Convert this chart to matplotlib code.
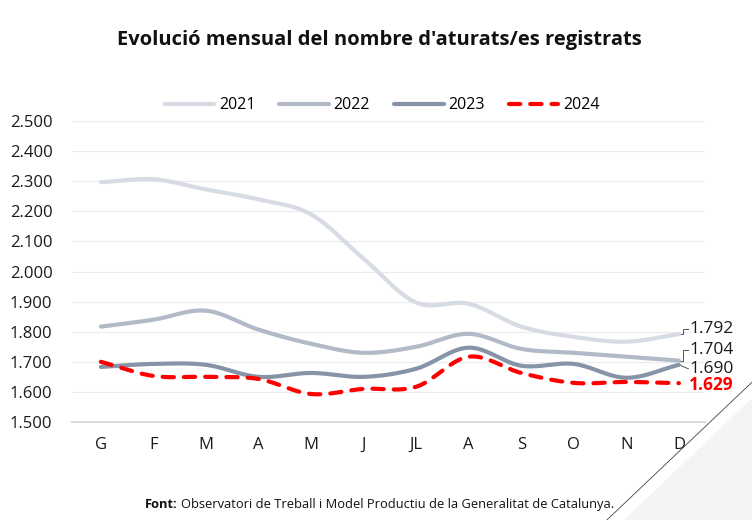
import numpy as np
import matplotlib
matplotlib.use("Agg")
import matplotlib.pyplot as plt
from matplotlib.ticker import FuncFormatter

months = ['G', 'F', 'M', 'A', 'M', 'J', 'JL', 'A', 'S', 'O', 'N', 'D']
y2021 = [2297, 2307, 2273, 2240, 2190, 2043, 1897, 1893, 1817, 1783, 1767, 1792]
y2022 = [1817, 1840, 1870, 1807, 1760, 1730, 1750, 1793, 1743, 1730, 1717, 1704]
y2023 = [1683, 1693, 1690, 1650, 1663, 1650, 1677, 1747, 1687, 1693, 1647, 1690]
y2024 = [1700, 1653, 1650, 1643, 1593, 1610, 1617, 1717, 1663, 1630, 1633, 1629]
years = ['2021', '2022', '2023', '2024']
end_labels = ['1.792', '1.704', '1.690', '1.629']

plt.rcParams['font.family'] = ['Open Sans', 'DejaVu Sans']


def smooth(y, n=20):
    """ Catmull-Rom style smoothing through the given points """
    y = np.asarray(y, dtype=float)
    x = np.arange(len(y))
    m = np.gradient(y)
    xs, ys = [], []
    for i in range(len(y) - 1):
        t = np.linspace(0, 1, n, endpoint=False)
        h00 = 2 * t**3 - 3 * t**2 + 1
        h10 = t**3 - 2 * t**2 + t
        h01 = -2 * t**3 + 3 * t**2
        h11 = t**3 - t**2
        ys.append(h00 * y[i] + h10 * m[i] + h01 * y[i + 1] + h11 * m[i + 1])
        xs.append(x[i] + t)
    xs.append([x[-1]])
    ys.append([y[-1]])
    return np.concatenate(xs), np.concatenate(ys)


fig = plt.figure(figsize=(7.52, 5.2), dpi=100)
ax = fig.add_axes([0.0957, 0.1885, 0.842, 0.5785])

colors = ['#d6dbe4', '#b2bac8', '#8794a7', '#ff0000']
series = [y2021, y2022, y2023, y2024]
for ys, c, lab in zip(series, colors, years):
    sx, sy = smooth(ys)
    if lab == '2024':
        ax.plot(sx, sy, color=c, lw=3.0, ls=(0, (2.7, 2.4)), label=lab,
                solid_capstyle='round', dash_capstyle='round', zorder=5)
    else:
        ax.plot(sx, sy, color=c, lw=3.0, label=lab,
                solid_capstyle='round', zorder=3)

ax.set_xlim(-0.55, 11.5)
ax.set_ylim(1500, 2500)
ax.set_yticks(np.arange(1500, 2501, 100))
ax.yaxis.set_major_formatter(FuncFormatter(
    lambda v, p: '{:,.0f}'.format(v).replace(',', '.')))
ax.set_xticks(range(len(months)))
ax.set_xticklabels(months)
ax.grid(axis='y', color='#ececec', lw=0.8)
ax.set_axisbelow(True)
for s in ['top', 'right', 'left']:
    ax.spines[s].set_visible(False)
ax.spines['bottom'].set_color('#d9d9d9')
ax.spines['bottom'].set_linewidth(1.5)
ax.tick_params(length=0, labelsize=12, colors='#1a1a1a')
ax.tick_params(axis='x', pad=11)
ax.tick_params(axis='y', pad=14)

# end value labels with leader lines
last = [s[-1] for s in series]
label_y = [1808, 1739, 1677, 1623]
for i, (v, ly, txt) in enumerate(zip(last, label_y, end_labels)):
    if i < 2:
        ax.plot([11, 11.08, 11.08, 11.18], [v, v, ly, ly], color='#555555',
                lw=0.7, clip_on=False)
    elif i == 2:
        ax.plot([11, 11.18], [v, ly], color='#555555', lw=0.7, clip_on=False)
    ax.text(11.2, ly, txt, va='center', ha='left', fontsize=12.5,
            color='#ff0000' if i == 3 else '#1a1a1a',
            fontweight='bold' if i == 3 else 'normal', clip_on=False)

leg = ax.legend(loc='lower center', bbox_to_anchor=(0.49, 1.0), ncol=4,
                frameon=False, fontsize=11.5, handlelength=3.1,
                columnspacing=1.5, handletextpad=0.3, borderaxespad=0.1)

fig.text(0.505, 0.923, "Evolució mensual del nombre d'aturats/es registrats",
         ha='center', va='center', fontsize=14.5, fontweight='bold',
         color='#111111')

fig.text(0.193, 0.029, 'Font:', ha='left', va='center', fontsize=9.3,
         fontweight='bold', color='#111111')
fig.text(0.241, 0.029,
         'Observatori de Treball i Model Productiu de la Generalitat de '
         'Catalunya.', ha='left', va='center', fontsize=9.3, color='#111111')

# decorative corner
fig.patches.append(plt.Polygon([(1.0, 0.235), (1.0, 0.0), (0.83, 0.0)],
                               closed=True, transform=fig.transFigure,
                               facecolor='#f4f4f4', edgecolor='none',
                               zorder=0))
fig.lines.append(plt.Line2D([0.807, 1.0], [0.0, 0.265],
                            transform=fig.transFigure, color='#444444',
                            lw=0.6))

fig.savefig('out.png', dpi=100)
